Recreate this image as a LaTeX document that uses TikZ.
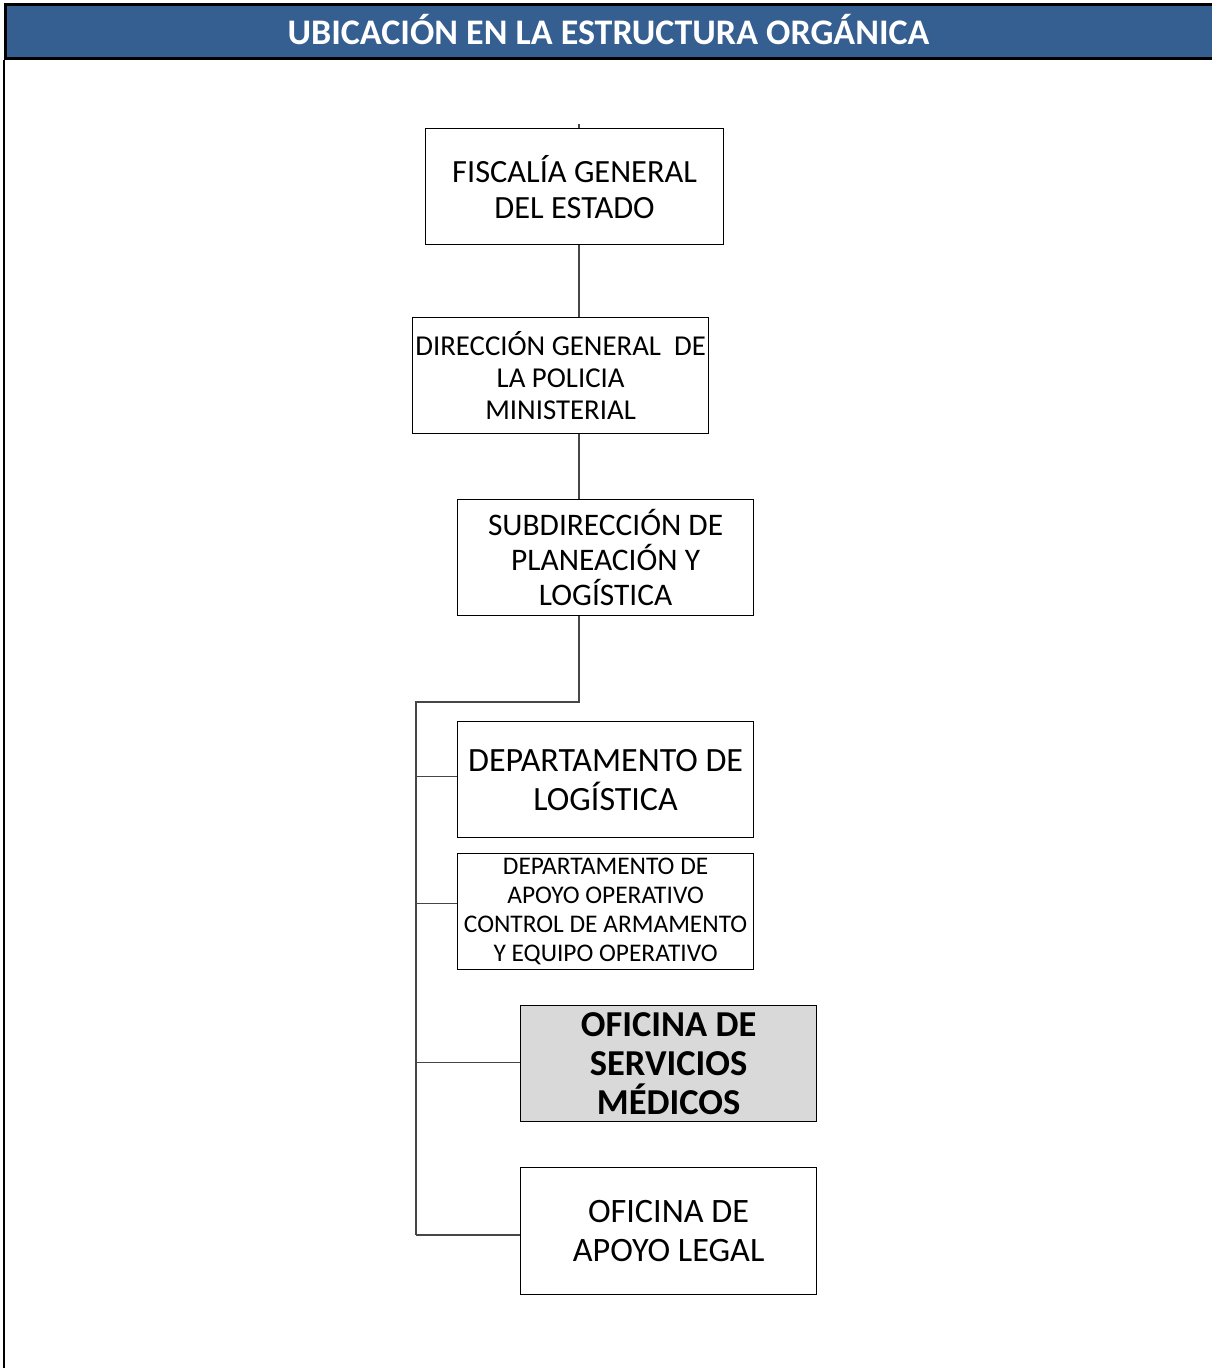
\documentclass[tikz,border=0pt]{standalone}
\usepackage{fontspec}
\setmainfont{Carlito}
\usetikzlibrary{positioning}
\definecolor{Azul}{RGB}{53,94,145}
\definecolor{Gris}{RGB}{217,217,217}
\definecolor{Linea}{RGB}{70,70,70}
\tikzset{
  caja/.style={draw=black,line width=1.2pt,fill=white,anchor=north west,minimum width=296pt,minimum height=116pt,inner sep=0pt,align=center},
  cajagris/.style={caja,fill=Gris},
  linea/.style={draw=Linea,line width=1.4pt},
  encabezado/.style={draw=black,line width=3pt,fill=Azul,anchor=north west,minimum width=1212pt,minimum height=54pt,inner sep=0pt,text height=25pt,text depth=0pt,text=white,font=\bfseries\fontsize{36}{40}\selectfont}
}

\begin{document}
\begin{tikzpicture}[x=1pt,y=-1pt]
\useasboundingbox (0,0) rectangle (1211,1368);
\node[encabezado] (titulo) at (4,3) {\hspace*{-6pt}UBICACIÓN EN LA ESTRUCTURA ORGÁNICA};
\draw[line width=2.5pt] (titulo.south west) -- ++(0,1320);
% cajas
\node[caja,minimum width=298pt,font=\fontsize{32.4}{36}\selectfont] (fge) at (425,128) {FISCALÍA GENERAL\\DEL ESTADO};
\node[caja,font=\fontsize{28.8}{32}\selectfont] (dgpm) at (412,317) {DIRECCIÓN GENERAL\ \ DE\\LA POLICIA\\MINISTERIAL};
\node[caja,font=\fontsize{31.4}{35}\selectfont] (spl) at (457,499) {SUBDIRECCIÓN DE\\PLANEACIÓN Y\\LOGÍSTICA};
\node[caja,font=\fontsize{34}{39}\selectfont] (dl) at (457,721) {DEPARTAMENTO DE\\LOGÍSTICA};
\node[caja,font=\fontsize{25.4}{29}\selectfont] (dao) at (457,853) {DEPARTAMENTO DE\\APOYO OPERATIVO\\CONTROL DE ARMAMENTO\\Y EQUIPO OPERATIVO};
\node[cajagris,font=\bfseries\fontsize{36.5}{39}\selectfont] (osm) at (520,1005) {OFICINA DE\\SERVICIOS\\MÉDICOS};
\node[caja,minimum height=127pt,font=\fontsize{34.2}{39}\selectfont] (oal) at (520,1167) {OFICINA DE\\APOYO LEGAL};
% conectores
\coordinate (eje) at (579,124);
\coordinate (tronco) at (416,702);
\coordinate (rdl) at ([yshift=3pt]dl.west);
\coordinate (rdao) at ([yshift=8pt]dao.west);
\coordinate (rosm) at ([yshift=1pt]osm.west);
\coordinate (roal) at ([yshift=-4pt]oal.west);
\draw[linea] (eje) -- (fge.north -| eje);
\draw[linea] (fge.south -| eje) -- (dgpm.north -| eje);
\draw[linea] (dgpm.south -| eje) -- (spl.north -| eje);
\draw[linea] (spl.south -| eje) |- (tronco) -- (tronco |- roal);
\draw[linea] (tronco |- rdl) -- (rdl);
\draw[linea] (tronco |- rdao) -- (rdao);
\draw[linea] (tronco |- rosm) -- (rosm);
\draw[linea] (tronco |- roal) -- (roal);
\end{tikzpicture}
\end{document}
